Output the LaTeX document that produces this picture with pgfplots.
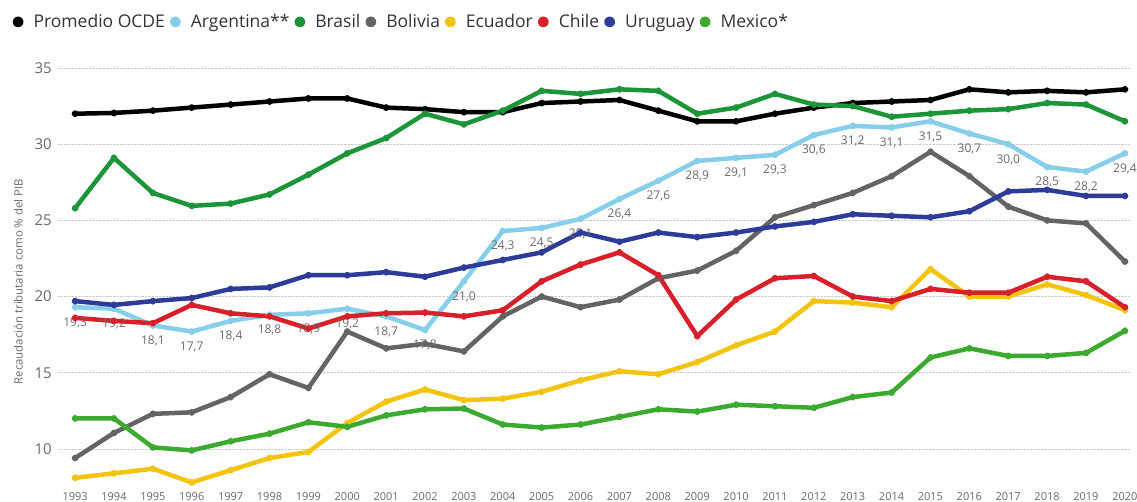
\documentclass[border=0pt]{standalone}
\usepackage{fontspec}
\setmainfont{Open Sans}
\usepackage{pgfplots}
\usepackage{pgfplotstable}
\pgfplotsset{compat=1.18}
\definecolor{cOcde}{RGB}{0,0,0}
\definecolor{cArg}{RGB}{135,206,235}
\definecolor{cBra}{RGB}{28,148,56}
\definecolor{cBol}{RGB}{100,100,100}
\definecolor{cEcu}{RGB}{242,196,15}
\definecolor{cChi}{RGB}{215,32,42}
\definecolor{cUru}{RGB}{46,60,153}
\definecolor{cMex}{RGB}{60,170,46}
\definecolor{txtgray}{RGB}{105,105,105}

\pgfplotstableread{
x y lab
1993 19.3 19,3
1994 19.2 19,2
1995 18.1 18,1
1996 17.7 17,7
1997 18.4 18,4
1998 18.8 18,8
1999 18.9 18,9
2000 19.2 19,2
2001 18.7 18,7
2002 17.8 17,8
2003 21.0 21,0
2004 24.3 24,3
2005 24.5 24,5
2006 25.1 25,1
2007 26.4 26,4
2008 27.6 27,6
2009 28.9 28,9
2010 29.1 29,1
2011 29.3 29,3
2012 30.6 30,6
2013 31.2 31,2
2014 31.1 31,1
2015 31.5 31,5
2016 30.7 30,7
2017 30.0 30,0
2018 28.5 28,5
2019 28.2 28,2
2020 29.4 29,4
}\argtable

\begin{document}
\begin{tikzpicture}[x=1pt,y=1pt]
\useasboundingbox (-58,-15) rectangle (1079,487);
\begin{axis}[
  at={(0,0)}, anchor=south west,
  scale only axis, width=1072pt, height=419pt,
  xmin=1992.56, xmax=2020.13, ymin=7.5, ymax=35,
  xtick={1993,...,2020}, ytick={10,15,...,35},
  /pgf/number format/1000 sep={},
  /pgf/number format/assume math mode=true,
  axis line style={draw=none}, major tick length=0pt,
  ymajorgrids, grid style={densely dotted, line width=0.8pt, color=black!20},
  xticklabel style={font=\fontsize{11}{11}\selectfont, text=txtgray, anchor=north, inner sep=0pt, yshift=-5pt},
  yticklabel style={font=\fontsize{15}{15}\selectfont, text=txtgray, anchor=east, inner sep=0pt, xshift=-6pt},
  ylabel={Recaudación tributaria como \% del PIB},
  ylabel style={font=\fontsize{11.4}{11.4}\selectfont, text=txtgray, at={(axis description cs:-0.037,0.49)}, anchor=center, rotate=0},
  clip=false,
  legend columns=-1,
  legend style={at={(axis description cs:-0.0425,1.11)}, anchor=west, draw=none, fill=none,
    inner sep=0pt, font=\fontsize{17.5}{17.5}\selectfont, text=black!80,
    nodes={inner sep=0pt},
    /tikz/every odd column/.append style={column sep=10pt},
    /tikz/every even column/.append style={column sep=5pt}},
  legend image code/.code={\fill (3pt,0pt) circle (3.2pt);},
  every axis plot/.append style={line width=4.5pt, mark=*, mark size=1.2pt, line join=round},
]
\addplot[cOcde] coordinates {(1993,32.0)(1994,32.05)(1995,32.2)(1996,32.4)(1997,32.6)(1998,32.8)(1999,33.0)(2000,33.0)(2001,32.4)(2002,32.3)(2003,32.1)(2004,32.1)(2005,32.7)(2006,32.8)(2007,32.9)(2008,32.2)(2009,31.5)(2010,31.5)(2011,32.0)(2012,32.4)(2013,32.7)(2014,32.8)(2015,32.9)(2016,33.6)(2017,33.4)(2018,33.5)(2019,33.4)(2020,33.6)};
\addlegendentry{Promedio OCDE}
\addplot[cArg, point meta=explicit symbolic, nodes near coords,
  every node near coord/.style={anchor=north, yshift=-7pt, font=\fontsize{12}{12}\selectfont, text=txtgray, inner sep=1pt}]
  table[x=x, y=y, meta=lab] {\argtable};
\addlegendentry{Argentina**}
\addplot[cBra] coordinates {(1993,25.8)(1994,29.1)(1995,26.8)(1996,25.95)(1997,26.1)(1998,26.7)(1999,28.0)(2000,29.4)(2001,30.4)(2002,32.0)(2003,31.3)(2004,32.2)(2005,33.5)(2006,33.3)(2007,33.6)(2008,33.5)(2009,32.0)(2010,32.4)(2011,33.3)(2012,32.6)(2013,32.5)(2014,31.8)(2015,32.0)(2016,32.2)(2017,32.3)(2018,32.7)(2019,32.6)(2020,31.5)};
\addlegendentry{Brasil}
\addplot[cBol] coordinates {(1993,9.4)(1994,11.05)(1995,12.3)(1996,12.4)(1997,13.4)(1998,14.9)(1999,14.0)(2000,17.7)(2001,16.6)(2002,16.9)(2003,16.4)(2004,18.7)(2005,20.0)(2006,19.3)(2007,19.8)(2008,21.2)(2009,21.7)(2010,23.0)(2011,25.2)(2012,26.0)(2013,26.8)(2014,27.9)(2015,29.5)(2016,27.9)(2017,25.9)(2018,25.0)(2019,24.8)(2020,22.3)};
\addlegendentry{Bolivia}
\addplot[cEcu] coordinates {(1993,8.1)(1994,8.4)(1995,8.7)(1996,7.8)(1997,8.6)(1998,9.4)(1999,9.8)(2000,11.7)(2001,13.1)(2002,13.9)(2003,13.2)(2004,13.3)(2005,13.75)(2006,14.5)(2007,15.1)(2008,14.9)(2009,15.7)(2010,16.8)(2011,17.7)(2012,19.7)(2013,19.6)(2014,19.3)(2015,21.8)(2016,20.0)(2017,20.0)(2018,20.8)(2019,20.1)(2020,19.1)};
\addlegendentry{Ecuador}
\addplot[cChi] coordinates {(1993,18.6)(1994,18.4)(1995,18.25)(1996,19.45)(1997,18.9)(1998,18.7)(1999,17.9)(2000,18.7)(2001,18.9)(2002,18.95)(2003,18.7)(2004,19.1)(2005,21.0)(2006,22.1)(2007,22.9)(2008,21.4)(2009,17.4)(2010,19.8)(2011,21.2)(2012,21.35)(2013,20.0)(2014,19.7)(2015,20.5)(2016,20.25)(2017,20.25)(2018,21.3)(2019,21.0)(2020,19.3)};
\addlegendentry{Chile}
\addplot[cUru] coordinates {(1993,19.7)(1994,19.45)(1995,19.7)(1996,19.9)(1997,20.5)(1998,20.6)(1999,21.4)(2000,21.4)(2001,21.6)(2002,21.3)(2003,21.9)(2004,22.4)(2005,22.9)(2006,24.2)(2007,23.6)(2008,24.2)(2009,23.9)(2010,24.2)(2011,24.6)(2012,24.9)(2013,25.4)(2014,25.3)(2015,25.2)(2016,25.6)(2017,26.9)(2018,27.0)(2019,26.6)(2020,26.6)};
\addlegendentry{Uruguay}
\addplot[cMex] coordinates {(1993,12.0)(1994,12.0)(1995,10.1)(1996,9.9)(1997,10.5)(1998,11.0)(1999,11.75)(2000,11.45)(2001,12.2)(2002,12.6)(2003,12.65)(2004,11.6)(2005,11.4)(2006,11.6)(2007,12.1)(2008,12.6)(2009,12.45)(2010,12.9)(2011,12.8)(2012,12.7)(2013,13.4)(2014,13.7)(2015,16.0)(2016,16.6)(2017,16.1)(2018,16.1)(2019,16.3)(2020,17.75)};
\addlegendentry{Mexico*}
\end{axis}
\end{tikzpicture}
\end{document}
